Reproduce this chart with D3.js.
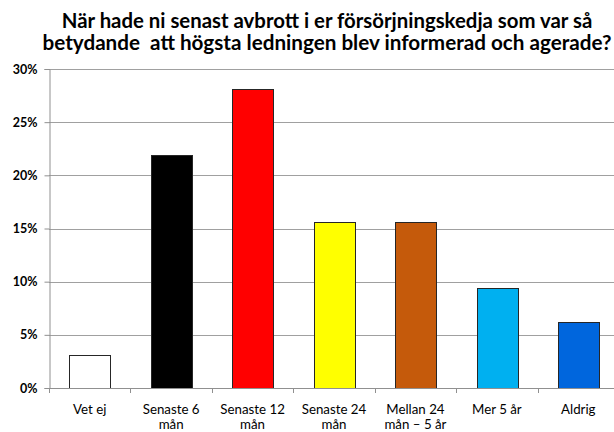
<!DOCTYPE html>
<html>
<head>
<meta charset="utf-8">
<script src="https://cdn.jsdelivr.net/npm/d3@7"></script>
<style>
  body { margin: 0; background: #fff; }
  svg { display: block; }
</style>
</head>
<body>
<svg id="chart" width="614" height="432"></svg>
<script>
// data (shares of 32 answers)
var categories = [["Vet ej"], ["Senaste 6", "mån"], ["Senaste 12", "mån"], ["Senaste 24", "mån"],
                  ["Mellan 24", "mån – 5 år"], ["Mer 5 år"], ["Aldrig"]];
var values = [0.03125, 0.21875, 0.28125, 0.15625, 0.15625, 0.09375, 0.0625];
var colors = ["#ffffff", "#000000", "#ff0000", "#ffff00", "#c55a0b", "#00b0f0", "#0066dd"];
var yTicks = [0, 0.05, 0.10, 0.15, 0.20, 0.25, 0.30];
var titleLines = ["När hade ni senast avbrott i er försörjningskedja som var så",
                  "betydande  att högsta ledningen blev informerad och agerade?"];

var svg = d3.select("#chart"),
    plotLeft = 49, plotRight = 619, plotTop = 69, plotBottom = 388;
var font = "Lato, 'Open Sans', sans-serif";

var xScale = d3.scaleBand().domain(d3.range(categories.length)).range([plotLeft, plotRight]).paddingInner(0).paddingOuter(0);
var yScale = d3.scaleLinear().domain([0, 0.30]).range([plotBottom, plotTop]);

// title, sized to fit the same width as the original
var titleWidths = [531, 569];
titleLines.forEach(function(t, i) {
  var txt = svg.append("text")
    .attr("x", 327)
    .attr("y", 28 + i * 22)
    .attr("text-anchor", "middle")
    .style("white-space", "pre")
    .style("font-family", font)
    .style("font-weight", "bold")
    .style("font-size", "19px")
    .style("fill", "#000")
    .text(t);
  var w = txt.node().getComputedTextLength();
  txt.style("font-size", (19 * titleWidths[i] / w).toFixed(2) + "px");
});

// gridlines
svg.append("g")
  .selectAll("line")
  .data(yTicks.slice(1))
  .enter()
  .append("line")
  .attr("x1", plotLeft).attr("x2", plotRight)
  .attr("y1", function(d) { return Math.round(yScale(d)) + 0.5; })
  .attr("y2", function(d) { return Math.round(yScale(d)) + 0.5; })
  .style("stroke", "#a0a0a0")
  .style("stroke-width", 1);

// y axis
var yAxis = svg.append("g")
  .attr("transform", "translate(" + (plotLeft + 0.5) + ",0)")
  .call(d3.axisLeft(yScale).tickValues(yTicks).tickSize(5).tickPadding(7)
        .tickFormat(d3.format(".0%")));
yAxis.select(".domain").style("stroke", "#909090");
yAxis.selectAll(".tick line").style("stroke", "#909090");
yAxis.selectAll("text")
  .style("font-family", font)
  .style("font-weight", "bold")
  .style("font-size", "12.5px")
  .style("fill", "#000");

// bars
svg.append("g")
  .selectAll("rect")
  .data(values)
  .enter()
  .append("rect")
  .attr("x", function(d, i) { return Math.round(xScale(i) + xScale.bandwidth() * 0.25) + 0.5; })
  .attr("y", function(d) { return Math.round(yScale(d)) + 0.5; })
  .attr("width", Math.round(xScale.bandwidth() * 0.5))
  .attr("height", function(d) { return plotBottom - Math.round(yScale(d)); })
  .style("fill", function(d, i) { return colors[i]; })
  .style("stroke", "#262626")
  .style("stroke-width", 1);

// x axis line and tick marks between categories
var xg = svg.append("g");
xg.append("line")
  .attr("x1", plotLeft).attr("x2", plotRight)
  .attr("y1", plotBottom + 0.5).attr("y2", plotBottom + 0.5)
  .style("stroke", "#909090");
xg.selectAll(".xt")
  .data(d3.range(categories.length + 1))
  .enter()
  .append("line")
  .attr("x1", function(i) { return Math.round(plotLeft + i * xScale.bandwidth()) + 0.5; })
  .attr("x2", function(i) { return Math.round(plotLeft + i * xScale.bandwidth()) + 0.5; })
  .attr("y1", plotBottom).attr("y2", plotBottom + 5)
  .style("stroke", "#909090");

// category labels
var labels = svg.append("g")
  .selectAll("text")
  .data(categories)
  .enter()
  .append("text")
  .attr("text-anchor", "middle")
  .attr("x", function(d, i) { return xScale(i) + xScale.bandwidth() / 2; })
  .attr("y", 414)
  .style("font-family", font)
  .style("font-size", "13.3px")
  .style("fill", "#000");
labels.selectAll("tspan")
  .data(function(d) { return d; })
  .enter()
  .append("tspan")
  .attr("x", function() { return d3.select(this.parentNode).attr("x"); })
  .attr("dy", function(d, j) { return j === 0 ? 0 : 15; })
  .text(function(d) { return d; });
</script>
</body>
</html>
